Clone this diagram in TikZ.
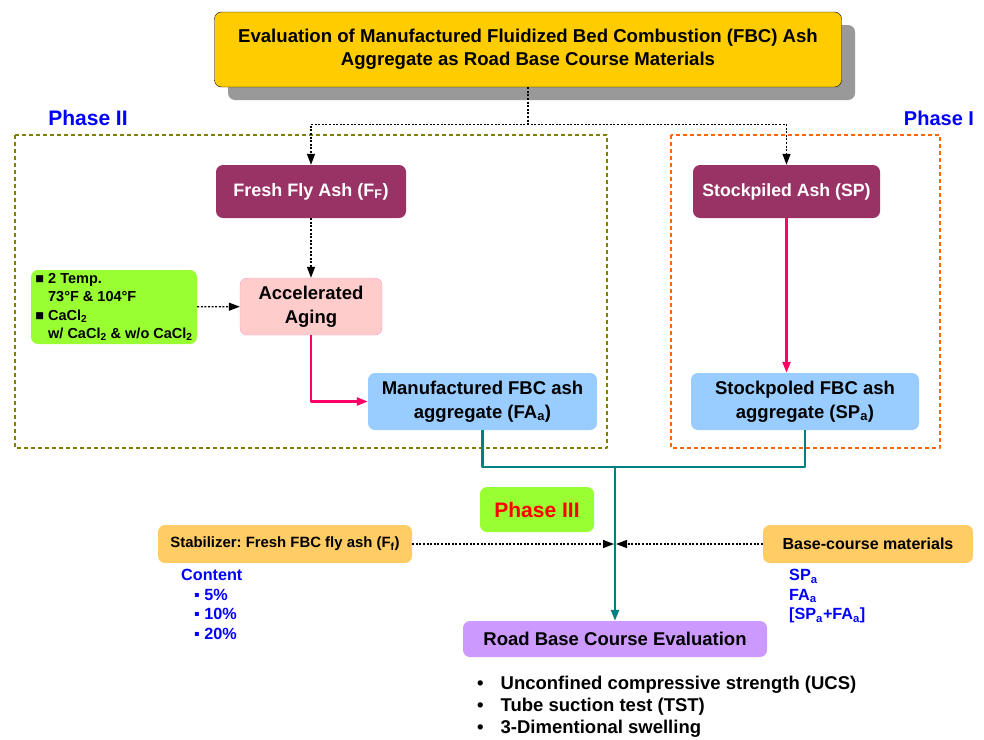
\documentclass[tikz,border=0pt]{standalone}
\usepackage{fontspec}
\setmainfont{Liberation Sans}
\usetikzlibrary{positioning,arrows.meta}
\definecolor{titleyellow}{HTML}{FFCC00}
\definecolor{ashpurple}{HTML}{993366}
\definecolor{limegreen}{HTML}{99FF33}
\definecolor{agepink}{HTML}{FFCCCC}
\definecolor{ageborder}{HTML}{FF99CC}
\definecolor{aggblue}{HTML}{99CCFF}
\definecolor{stabyellow}{HTML}{FFCC66}
\definecolor{evalviolet}{HTML}{CC99FF}
\definecolor{flowpink}{HTML}{FF0066}
\definecolor{linkteal}{HTML}{008080}
\definecolor{phaseblue}{HTML}{0000FF}
\definecolor{frameolive}{HTML}{808000}
\definecolor{frameorange}{HTML}{FF6600}
\newcommand{\bfsz}[2]{\fontsize{#1}{#2}\selectfont\bfseries}
\frenchspacing
\tikzset{
  box/.style={rounded corners=7pt, inner sep=2pt, align=center, font=\bfsz{18.5}{24}},
  dotarrow/.style={->, line width=1.4pt, dash pattern=on 2pt off 1.6pt},
  flowarrow/.style={->, line width=2.4pt, flowpink},
  tealline/.style={line width=2.4pt, linkteal},
  phaseframe/.style={line width=2.6pt, dash pattern=on 4pt off 3pt},
  phaselabel/.style={font=\bfsz{21}{24}, text=phaseblue},
  bluelist/.style={font=\bfsz{16.2}{19.5}, text=phaseblue, align=left, anchor=north west, inner sep=0pt}
}
\begin{document}
\begin{tikzpicture}[x=1pt, y=-1pt, line join=round, >={Triangle[length=11pt,width=8pt]}]
\useasboundingbox (0,0) rectangle (984,739);
% title with its shadow
\fill[black!40, rounded corners=7pt] (228,25) rectangle (855,100);
\node[box, draw, fill=titleyellow, font=\bfsz{18.6}{23}, minimum width=627pt, minimum height=75pt] (title) at (528,49.5)
  {Evaluation of Manufactured Fluidized Bed Combustion (FBC) Ash\\Aggregate as Road Base Course Materials};
% phase frames
\draw[phaseframe, frameolive] (15,135) rectangle (607,448);
\draw[phaseframe, frameorange] (671,135) rectangle (940,448);
\node[phaselabel] (ph2lab) at (88,118) {Phase II};
\node[phaselabel, font=\bfsz{20}{24}] (ph1lab) at (939,118) {Phase I};
% boxes
\node[box, fill=ashpurple, text=white, font=\bfsz{18}{24}, minimum width=190pt, minimum height=53pt] (ffa) at (311,191.5) {Fresh Fly Ash (F\textsubscript{F})};
\node[box, fill=ashpurple, text=white, font=\bfsz{17.7}{24}, minimum width=187pt, minimum height=53pt] (spa) at (786.5,191.5) {Stockpiled Ash (SP)};
\node[box, fill=limegreen, align=left, font=\bfsz{14.5}{18.3}, minimum width=166pt, minimum height=74pt] (temp) at (114,307)
  {■ 2 Temp.\\\phantom{■ }73°F \& 104°F\\■ CaCl\textsubscript{2}\\\phantom{■ }w/ CaCl\textsubscript{2} \& w/o CaCl\textsubscript{2}};
\node[box, draw=ageborder, fill=agepink, minimum width=142pt, minimum height=57pt] (aging) at (311,306.5) {Accelerated\\Aging};
\node[box, fill=aggblue, minimum width=229pt, minimum height=57pt] (faa) at (482.5,401.5) {Manufactured FBC ash\\aggregate (FA\textsubscript{a})};
\node[box, fill=aggblue, minimum width=228pt, minimum height=57pt] (spagg) at (805,401.5) {Stockpoled FBC ash\\aggregate (SP\textsubscript{a})};
\node[box, fill=limegreen, text=red, font=\bfsz{21}{24}, minimum width=114pt, minimum height=45pt] (ph3) at (537,509.5) {Phase III};
\node[box, fill=stabyellow, font=\bfsz{14.9}{18}, minimum width=254pt, minimum height=38pt] (stab) at (285,544) {Stabilizer: Fresh FBC fly ash (F\textsubscript{f})};
\node[box, fill=stabyellow, font=\bfsz{16}{18}, minimum width=210pt, minimum height=38pt] (base) at (868,544) {Base-course materials};
\node[box, fill=evalviolet, minimum width=304pt, minimum height=36pt] (eval) at (615,639) {Road Base Course Evaluation};
% lists
\node[bluelist] (content) at (181,569) {Content\\\hspace*{13pt}▪ 5\%\\\hspace*{13pt}▪ 10\%\\\hspace*{13pt}▪ 20\%};
\node[bluelist] (mats) at (789,569) {SP\textsubscript{a}\\FA\textsubscript{a}\\{}[SP\textsubscript{a}+FA\textsubscript{a}]};
\node[font=\bfsz{18.5}{22}, align=left, anchor=north west, inner sep=0pt] (tests) at (477,676)
  {•\hspace{17pt}Unconfined compressive strength (UCS)\\•\hspace{17pt}Tube suction test (TST)\\•\hspace{17pt}3-Dimentional swelling};
% connectors
\draw[dotarrow] (title.south) -- ++(0,37) -| (ffa.north);
\draw[dotarrow] (title.south) -- ++(0,37) -| (spa.north);
\draw[dotarrow] (ffa) -- (aging);
\draw[dotarrow] (temp) -- (aging);
\draw[flowarrow] (aging.south) |- (faa.west);
\draw[flowarrow] (spa.south) -- (spa.south |- spagg.north);
\coordinate (join) at (615,467);
\draw[tealline] (faa.south) |- (join) -| (spagg.south);
\draw[tealline, ->] (join) -- (join |- eval.north);
\draw[dotarrow] (stab.east) -- ([xshift=-1pt]stab.east -| join);
\draw[dotarrow] (base.west) -- ([xshift=1pt]base.west -| join);
\end{tikzpicture}
\end{document}
